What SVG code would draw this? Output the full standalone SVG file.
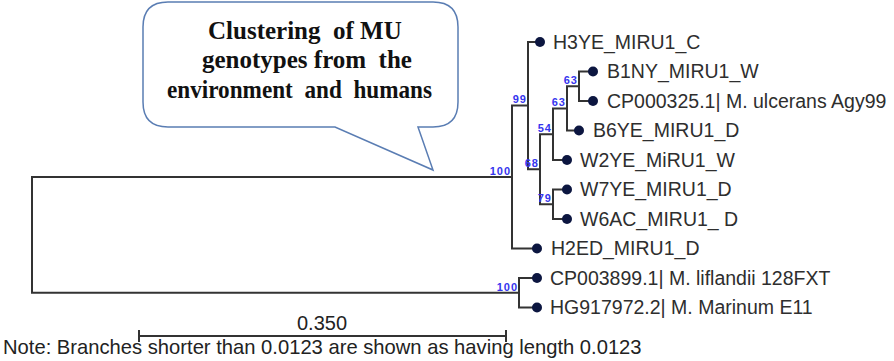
<svg xmlns="http://www.w3.org/2000/svg" width="894" height="361" viewBox="0 0 894 361">
<style>
.br{fill:none;stroke:#333;stroke-width:2;stroke-linecap:square}
.dot{fill:#0c1640}
.lbl{font-family:"Liberation Sans",Arial,sans-serif;font-size:19.5px;fill:#2e2e2e}
.bs{font-family:"Liberation Sans",Arial,sans-serif;font-size:11px;font-weight:bold;fill:#3535ee;text-anchor:end;letter-spacing:1px}
.call{font-family:"Liberation Serif","Times New Roman",serif;font-size:25px;font-weight:bold;fill:#111;white-space:pre}
.note{font-family:"Liberation Sans",Arial,sans-serif;font-size:20px;fill:#222}
</style>
<rect width="894" height="361" fill="#fff"/>
<g id="callout">
<path d="M168 2 H433 Q458 2 458 27 V102 Q458 127 433 127 H418 L433 170 L335 127 H168 Q143 127 143 102 V27 Q143 2 168 2 Z" fill="#fff" stroke="#5a7db3" stroke-width="1.5"/>
<text class="call" x="208" y="39" xml:space="preserve">Clustering  of MU</text>
<text class="call" x="202" y="68" xml:space="preserve">genotypes from  the</text>
<text class="call" x="167" y="98" textLength="265" lengthAdjust="spacingAndGlyphs" xml:space="preserve">environment  and  humans</text>
</g>
<g id="connectors">
<path class="br" d="M593 71.5 H579 V101 H593"/>
<path class="br" d="M579 86.25 H567 V130.5 H579"/>
<path class="br" d="M567 108.4 H553 V160 H567"/>
<path class="br" d="M567 189.5 H553 V219 H567"/>
<path class="br" d="M553 134.2 H540 V204.25 H553"/>
<path class="br" d="M540 42 H528 V169.2 H540"/>
<path class="br" d="M528 105.6 H512 V248.5 H537"/>
<path class="br" d="M537 278 H519 V307.5 H537"/>
<path class="br" d="M512 177 H32 V292.75 H519"/>
</g>
<g id="n_upper63"><text class="bs" x="578" y="83.5">63</text></g>
<g id="n_lower63"><text class="bs" x="566" y="106">63</text></g>
<g id="n_54"><text class="bs" x="552" y="131.5">54</text></g>
<g id="n_68"><text class="bs" x="539" y="166.5">68</text></g>
<g id="n_79"><text class="bs" x="552" y="201.5">79</text></g>
<g id="n_99"><text class="bs" x="527" y="103">99</text></g>
<g id="n_100a"><text class="bs" x="511" y="174.5">100</text></g>
<g id="n_100b"><text class="bs" x="518" y="290.5">100</text></g>
<g id="leaf_H3YE"><circle class="dot" cx="540" cy="42" r="5"/><text class="lbl" x="553" y="48.5">H3YE_MIRU1_C</text></g>
<g id="leaf_B1NY"><circle class="dot" cx="593" cy="71.5" r="5"/><text class="lbl" x="607" y="78">B1NY_MIRU1_W</text></g>
<g id="leaf_CP000325"><circle class="dot" cx="593" cy="101" r="5"/><text class="lbl" x="607" y="107.5">CP000325.1| M. ulcerans Agy99</text></g>
<g id="leaf_B6YE"><circle class="dot" cx="579" cy="130.5" r="5"/><text class="lbl" x="593" y="137">B6YE_MIRU1_D</text></g>
<g id="leaf_W2YE"><circle class="dot" cx="567" cy="160" r="5"/><text class="lbl" x="580" y="166.5">W2YE_MiRU1_W</text></g>
<g id="leaf_W7YE"><circle class="dot" cx="567" cy="189.5" r="5"/><text class="lbl" x="580" y="196">W7YE_MIRU1_D</text></g>
<g id="leaf_W6AC"><circle class="dot" cx="567" cy="219" r="5"/><text class="lbl" x="580" y="225.5">W6AC_MIRU1_ D</text></g>
<g id="leaf_H2ED"><circle class="dot" cx="537" cy="248.5" r="5"/><text class="lbl" x="551" y="255">H2ED_MIRU1_D</text></g>
<g id="leaf_CP003899"><circle class="dot" cx="537" cy="278" r="5"/><text class="lbl" x="550" y="284.5">CP003899.1| M. liflandii 128FXT</text></g>
<g id="leaf_HG917972"><circle class="dot" cx="537" cy="307.5" r="5"/><text class="lbl" x="550" y="314">HG917972.2| M. Marinum E11</text></g>
<g id="scale">
<path class="br" d="M139 336 H506 M139 331 V341 M506 331 V341" stroke-width="1.6"/>
<text class="note" x="322" y="330" text-anchor="middle">0.350</text>
</g>
<text class="note" x="3" y="354" style="font-size:20.2px">Note: Branches shorter than 0.0123 are shown as having length 0.0123</text>
</svg>
